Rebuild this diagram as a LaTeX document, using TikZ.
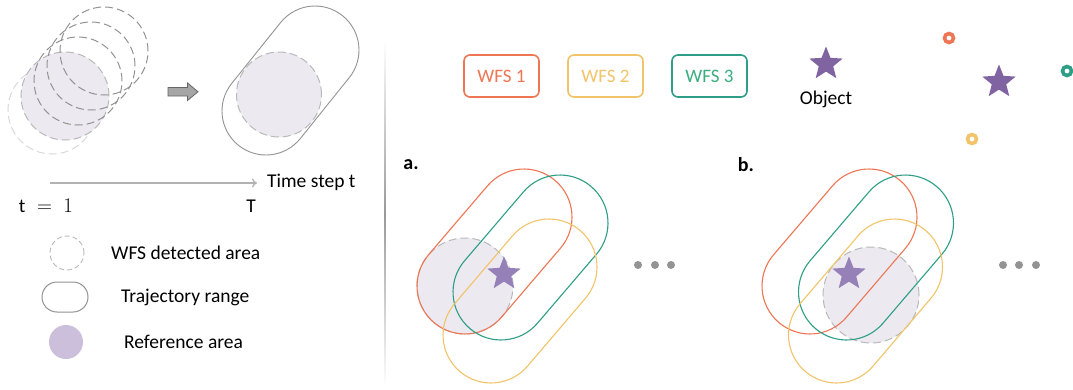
\documentclass[tikz,border=0pt]{standalone}
\usepackage{fontspec}
\setmainfont{Carlito}
\usetikzlibrary{shapes.geometric,arrows.meta}
\definecolor{wred}{HTML}{EE7654}
\definecolor{wyel}{HTML}{F2C46A}
\definecolor{wgrn}{HTML}{2E9E86}
\definecolor{wgrntxt}{HTML}{3AAE7E}
\definecolor{starc}{HTML}{8064A2}
\definecolor{starl}{HTML}{9580B8}
\definecolor{refbg}{HTML}{ECE9F0}
\definecolor{refleg}{HTML}{CBBFDC}
\newcommand\mystad[8]{%
 \pgfmathsetmacro\sdx{#5-#3}\pgfmathsetmacro\sdy{#4-#6}%
 \pgfmathsetmacro\sang{atan2(\sdy,\sdx)}%
 \pgfmathsetmacro\slen{veclen(\sdx,\sdy)+2*#7}%
 \pgfmathsetmacro\shgt{2*#7}%
 \node[draw=#2, line width=#8, rectangle, inner sep=0pt, rounded corners=#7pt,
   minimum width=\slen pt, minimum height=\shgt pt, rotate=\sang] (#1) at ({(#3+#5)/2},{(#4+#6)/2}) {};}
\begin{document}
\begin{tikzpicture}[x=1pt,y=-1pt,
  txt/.style={font=\fontsize{19.5}{23}\selectfont, inner sep=0pt},
  wfsbox/.style={draw=#1, text=#1, line width=1.6pt, rounded corners=6pt, minimum width=75pt, minimum height=42pt, font=\fontsize{19}{23}\selectfont, inner sep=0pt},
  dcirc/.style={circle, draw=#1, dash pattern=on 8pt off 4pt, line width=1pt, minimum size=88pt, inner sep=0pt},
  refc/.style={circle, fill=refbg, draw=gray!55, dash pattern=on 8pt off 4pt, line width=1pt, minimum size=96pt, inner sep=0pt},
  objstar/.style={star, star points=5, star point ratio=2.3, fill=#1, minimum size=35pt, inner sep=0pt},
  ring/.style={circle, draw=#1, line width=3.6pt, minimum size=9pt, inner sep=0pt},
  dotc/.style={circle, fill=gray!85, minimum size=8pt, inner sep=0pt}
]
\useasboundingbox (0,0) rectangle (1073,389);
\fill[white] (0,0) rectangle (1073,389);
% ---- left: detected circles over time
\node[dcirc=gray!30] (c1) at (52,110) {};
\node[dcirc=gray!55, fill=refbg] (c2) at (65,96) {};
\node[dcirc=gray!85] (c3) at (78,81) {};
\node[dcirc=gray!85] (c4) at (91,66) {};
\node[dcirc=gray!85] (c5) at (104,51) {};
\draw[draw=gray!80!black, fill=gray!70, line width=0.8pt, line join=miter]
  (168,87.5) -- (187.5,87.5) -- (187.5,83) -- (198,91.75) -- (187.5,100.5) -- (187.5,96) -- (168,96) -- cycle;
\node[circle, fill=refbg, draw=gray!55, dash pattern=on 8pt off 4pt, line width=1pt, minimum size=85pt, inner sep=0pt] (lref) at (279,94.5) {};
\mystad{lstad}{gray!85}{266}{111}{315}{50}{44}{0.9pt}
% time axis
\node[txt, anchor=west] (tlab) at (267,182) {Time step t};
\coordinate (tstart) at (50,183);
\coordinate (tend) at (257,183);
\draw[gray!60, line width=1.3pt, -{To[length=5pt,width=9pt]}] (tstart) -- (tend);
\node[font=\fontsize{19.5}{23}\selectfont, inner sep=0pt] (t1) at (46,206) {$\mathrm{t}\;=\;1$};
\node[font=\fontsize{19.5}{23}\selectfont, inner sep=0pt] (tT) at (251,206) {$\mathrm{T}$};
% legend
\node[circle, draw=gray!55, dash pattern=on 5pt off 3pt, line width=0.9pt, minimum size=34pt, inner sep=0pt] (lg1) at (67,253) {};
\node[txt, anchor=west] (lt1) at (111,253) {WFS detected area};
\node[draw=gray!85, line width=1pt, rounded corners=15pt, minimum width=46pt, minimum height=30pt, inner sep=0pt] (lg2) at (65,297) {};
\node[txt, anchor=west] (lt2) at (121,297) {Trajectory range};
\node[circle, fill=refleg, minimum size=34pt, inner sep=0pt] (lg3) at (66,342) {};
\node[txt, anchor=west] (lt3) at (124,342) {Reference area};
% separator
\shade[top color=white, bottom color=white, middle color=gray!80] (384.6,40) rectangle (385.8,387);
% ---- right: legend
\node[wfsbox=wred] (w1) at (501.5,76) {WFS 1};
\node[wfsbox=wyel] (w2) at (605.5,76) {WFS 2};
\node[wfsbox=wgrn, text=wgrntxt] (w3) at (709.5,76) {WFS 3};
\node[objstar=starc] (obj) at (826,64) {};
\node[txt, anchor=center] (objt) at (826,99) {Object};
\node[objstar=starc] (s2) at (999,82) {};
\node[ring=wred] (r1) at (949,38) {};
\node[ring=wgrn] (r2) at (1067,71) {};
\node[ring=wyel] (r3) at (972,139) {};
% ---- panel a
\node[font=\fontsize{20}{24}\selectfont\bfseries, inner sep=0pt] (la) at (411,165) {a.};
\node[refc] (ra) at (465,286) {};
\mystad{ared}{wred}{465}{286}{524}{217}{48}{1.1pt}
\mystad{agrn}{wgrn}{501}{292}{560}{223}{48}{1.1pt}
\mystad{ayel}{wyel}{491}{335}{549}{267}{48}{1.1pt}
\node[objstar=starl] (sa) at (504,274) {};
\node[dotc] (da1) at (638,265) {};
\node[dotc] (da2) at (655,265) {};
\node[dotc] (da3) at (671,265) {};
% ---- panel b
\node[font=\fontsize{20}{24}\selectfont\bfseries, inner sep=0pt] (lb) at (746,165) {b.};
\node[refc] (rb) at (871,295) {};
\mystad{bred}{wred}{810}{286}{869}{217}{48}{1.1pt}
\mystad{bgrn}{wgrn}{846.5}{292}{905.5}{223}{48}{1.1pt}
\mystad{byel}{wyel}{836.5}{335}{894.5}{267}{48}{1.1pt}
\node[objstar=starl] (sb) at (849,274) {};
\node[dotc] (db1) at (1003,265) {};
\node[dotc] (db2) at (1019,265) {};
\node[dotc] (db3) at (1036,265) {};
\end{tikzpicture}
\end{document}
